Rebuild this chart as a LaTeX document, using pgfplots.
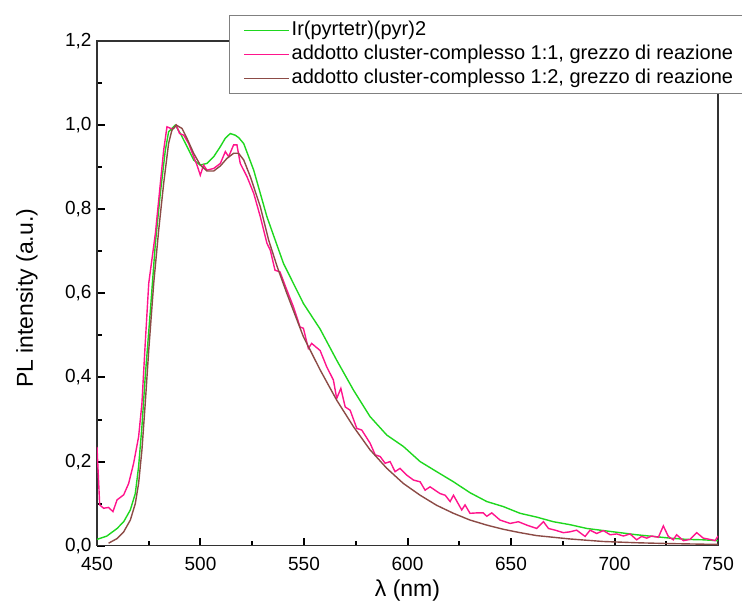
\documentclass[border=0pt]{standalone}
\usepackage{fontspec}
\setmainfont{Liberation Sans}
\usepackage{pgfplots}
\pgfplotsset{compat=1.18}
\definecolor{cgreen}{RGB}{30,215,30}
\definecolor{cpink}{RGB}{255,20,140}
\definecolor{cbrown}{RGB}{140,75,70}
\definecolor{axgray}{RGB}{50,50,50}
\begin{document}
\begin{tikzpicture}
\begin{axis}[
 name=ax,
 scale only axis, width=621pt, height=504.7pt,
 xmin=450, xmax=750, ymin=0, ymax=1.2,
 xtick={450,500,550,600,650,700,750},
 ytick={0,0.2,0.4,0.6,0.8,1.0,1.2},
 minor x tick num=1, minor y tick num=1,
 xtick pos=bottom, ytick pos=left, tick align=inside,
 tickwidth=8pt, subtickwidth=5pt,
 axis line style={axgray, line width=1.5pt},
 major tick style={draw=black, line width=2pt},
 minor tick style={draw=black, line width=2pt},
 tick label style={font=\fontsize{19}{22}\selectfont},
 /pgf/number format/assume math mode=true,
 yticklabel style={xshift=-2pt, /pgf/number format/.cd, use comma, fixed, fixed zerofill, precision=1},
 xticklabel style={yshift=-8pt, /pgf/number format/.cd, 1000 sep={}},
 label style={font=\fontsize{23}{27}\selectfont},
 xlabel={λ (nm)}, ylabel={PL intensity (a.u.)},
 xlabel style={at={(axis description cs:0.5,-0.0892)}, anchor=center},
 ylabel style={at={(axis description cs:-0.1127,0.49)}, anchor=center},
 legend style={at={(axis description cs:0.2126,1.0515)}, anchor=north west,
   draw=gray, line width=0.8pt, fill=white,
   font=\fontsize{20}{24}\selectfont, cells={anchor=west},
   inner xsep=14pt, inner ysep=3pt, row sep=0pt,
   nodes={inner xsep=2pt, inner ysep=2pt, text height=15pt, text depth=5pt}},
 legend image code/.code={\draw[#1, line width=1.3pt] (0pt,0pt) -- (45pt,0pt);},
 every axis plot/.append style={line width=1.4pt},
]
\addplot[cgreen] coordinates {
(450,0.015)(454.8,0.023)(459.7,0.041)(462.9,0.057)(466.1,0.085)(468.5,0.124)
(470.1,0.188)(471.7,0.283)(473.3,0.402)(475.8,0.56)(478.2,0.719)(480.6,0.838)
(483,0.94)(484.6,0.984)(487.8,1.0)(490.3,0.98)(493.5,0.949)(496.7,0.917)
(499.9,0.905)(503.1,0.909)(506.4,0.925)(509.6,0.949)(512,0.969)(514.4,0.98)
(516.8,0.976)(518.5,0.97)(520.9,0.956)(525.7,0.893)(532.1,0.782)(537,0.714)
(540.1,0.671)(549.7,0.576)(557.8,0.515)(565.8,0.441)(573.9,0.37)(581.9,0.307)
(590,0.263)(598,0.236)(606.1,0.2)(614.1,0.176)(622.2,0.152)(630.2,0.126)
(638.3,0.105)(646.3,0.093)(654.4,0.077)(662.4,0.068)(670.5,0.057)(678.5,0.05)
(686.6,0.041)(694.6,0.036)(702.7,0.031)(710.7,0.026)(718.8,0.022)(726.8,0.018)
(734.9,0.015)(742.9,0.014)(750,0.012)
};
\addlegendentry{Ir(pyrtetr)(pyr)2}
\addplot[cpink] coordinates {
(450,0.235)(451.3,0.097)(453.2,0.089)(455.6,0.091)(457.7,0.081)(459.7,0.109)
(462.9,0.121)(465.3,0.148)(467.7,0.196)(470.1,0.259)(471.7,0.338)(473.3,0.481)
(475,0.624)(478.2,0.742)(480.6,0.861)(482.2,0.94)(483.8,0.996)(485.7,0.992)
(487,0.992)(488.3,1.0)(489.9,0.98)(491.9,0.976)(494.3,0.956)(496.7,0.925)
(498.3,0.905)(499.9,0.881)(501.5,0.905)(503.1,0.893)(506.4,0.897)(509.6,0.909)
(512,0.937)(513.6,0.925)(516,0.953)(517.6,0.953)(519.2,0.909)(522.5,0.877)
(525.7,0.838)(528.9,0.782)(532.1,0.719)(533.7,0.703)(536,0.655)(538.4,0.651)
(541.7,0.608)(544.9,0.568)(548.1,0.52)(549.7,0.517)(552.1,0.469)(553.7,0.481)
(557.8,0.464)(561,0.425)(564.2,0.394)(565.8,0.35)(567.8,0.374)(569.9,0.33)
(572.3,0.322)(575.5,0.279)(577.9,0.275)(581.9,0.244)(584.4,0.216)(586.8,0.212)
(589.2,0.196)(591.6,0.2)(594,0.176)(596.4,0.184)(599.6,0.168)(602.9,0.156)
(606.1,0.152)(608.5,0.132)(610.9,0.14)(615.7,0.124)(618.2,0.12)(620.6,0.105)
(622.2,0.12)(626.2,0.085)(627.8,0.097)(630.2,0.077)(633.4,0.078)(636.6,0.078)
(638.3,0.07)(640.7,0.078)(644.7,0.061)(649.6,0.053)(653.6,0.057)(657.6,0.049)
(662.4,0.041)(665.7,0.057)(668.1,0.041)(671.3,0.037)(675.3,0.031)(678.5,0.033)
(681.7,0.037)(685.8,0.022)(688.2,0.037)(691.4,0.029)(694.6,0.036)(697.9,0.026)
(701.1,0.028)(704.3,0.023)(707.5,0.028)(710.7,0.014)(713.1,0.022)(715.6,0.018)
(718,0.023)(721.2,0.02)(723.6,0.047)(726,0.022)(728.4,0.014)(730,0.026)
(733.3,0.012)(736.5,0.015)(739.7,0.031)(742.9,0.018)(746.1,0.015)(748.6,0.012)
(750,0.023)
};
\addlegendentry{addotto cluster-complesso 1:1, grezzo di reazione}
\addplot[cbrown] coordinates {
(455.6,0.006)(459.7,0.017)(462.9,0.033)(466.1,0.061)(468.5,0.1)(470.1,0.148)
(471.7,0.227)(473.3,0.338)(475,0.465)(477.4,0.624)(479.8,0.75)(482.2,0.861)
(484.6,0.957)(486.2,0.988)(488.3,1.0)(491.1,0.992)(493.5,0.968)(496.7,0.933)
(499.9,0.905)(503.1,0.891)(506.4,0.891)(509.6,0.903)(512.8,0.921)(516,0.933)
(518.4,0.933)(520.9,0.917)(524.1,0.877)(528.9,0.806)(532.9,0.727)(537,0.664)
(541.7,0.6)(549.7,0.497)(557.8,0.418)(565.8,0.346)(573.9,0.283)(581.9,0.228)
(590,0.184)(598,0.148)(606.1,0.12)(614.1,0.096)(622.2,0.077)(630.2,0.061)
(638.3,0.049)(646.3,0.039)(654.4,0.031)(662.4,0.024)(670.5,0.02)(678.5,0.016)
(694.6,0.010)(710.7,0.007)(726.8,0.005)(750,0.003)
};
\addlegendentry{addotto cluster-complesso 1:2, grezzo di reazione}
\end{axis}
\pgfresetboundingbox
\path[use as bounding box] ([shift={(-97pt,-60.3pt)}]ax.south west) rectangle ([shift={(24pt,41pt)}]ax.north east);
\end{tikzpicture}
\end{document}
